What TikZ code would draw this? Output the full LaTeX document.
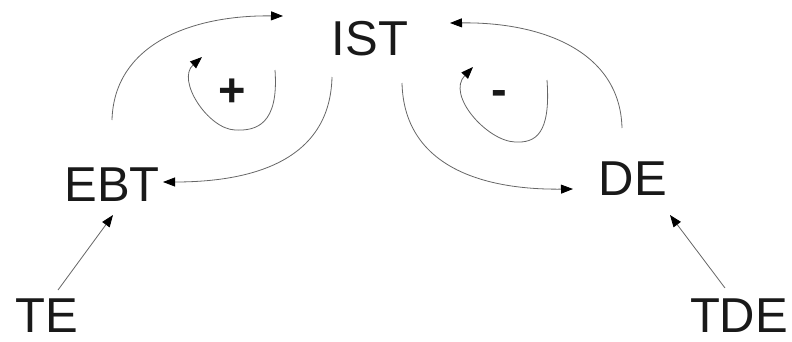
\documentclass[tikz,border=0pt]{standalone}
\usepackage{fontspec}
\setmainfont{Liberation Sans}
\usetikzlibrary{arrows.meta}
\begin{document}
\begin{tikzpicture}[x=1pt,y=-1pt,
  lbl/.style={inner sep=0pt, anchor=base, font=\fontsize{49}{49}\selectfont, text=black!90},
  sign/.style={inner sep=0pt, anchor=base, font=\fontsize{47}{47}\selectfont\bfseries, text=black!90},
  conn/.style={draw=black!60, line width=0.8pt, -{Triangle[length=12pt,width=9pt,fill=black,color=black]}},
  flow/.style={draw=black!60, line width=0.8pt, -{Triangle[length=12pt,width=9pt,fill=black,color=black]}}]
\useasboundingbox (0,0) rectangle (792,341);
% nodes
\node[lbl] (IST) at (370,55) {IST};
\node[lbl] (EBT) at (112,201) {EBT};
\node[lbl] (DE)  at (633,195) {DE};
\node[lbl] (TE)  at (47,332) {TE};
\node[lbl] (TDE) at (739,332) {TDE};
\node[sign] (plus) at (232,106) {+};
\node[sign] (minus) at (499,105) {-};
% connector endpoints
\coordinate (ebtTop) at (112,120);
\coordinate (istL) at (283,16);
\coordinate (istBL) at (332,77);
\coordinate (ebtR) at (163,182);
\coordinate (deTop) at (622,128);
\coordinate (istR) at (450,23);
\coordinate (istBR) at (402,83);
\coordinate (deL) at (573,189);
\coordinate (pS) at (275,70);
\coordinate (pB) at (235,130);
\coordinate (pE) at (202,57);
\coordinate (mS) at (547,80);
\coordinate (mB) at (515,142);
\coordinate (mE) at (473,67);
\coordinate (teTop) at (58,290);
\coordinate (ebtB) at (113,215);
\coordinate (tdeTop) at (725,288);
\coordinate (deB) at (670,215);
% connectors
\draw[flow] (ebtTop) .. controls (114,45) and (190,15) .. (istL);
\draw[flow] (istBL) .. controls (330,162) and (250,182) .. (ebtR);
\draw[flow] (deTop) .. controls (620,50) and (540,22) .. (istR);
\draw[flow] (istBR) .. controls (404,165) and (480,190) .. (deL);
\draw[flow] (pS) .. controls (279,125) and (256,131) .. (pB) .. controls (208,129) and (176,80) .. (pE);
\draw[flow] (mS) .. controls (551,135) and (535,143) .. (mB) .. controls (487,141) and (446,95) .. (mE);
\draw[conn] (teTop) -- (ebtB);
\draw[conn] (tdeTop) -- (deB);
\end{tikzpicture}
\end{document}
